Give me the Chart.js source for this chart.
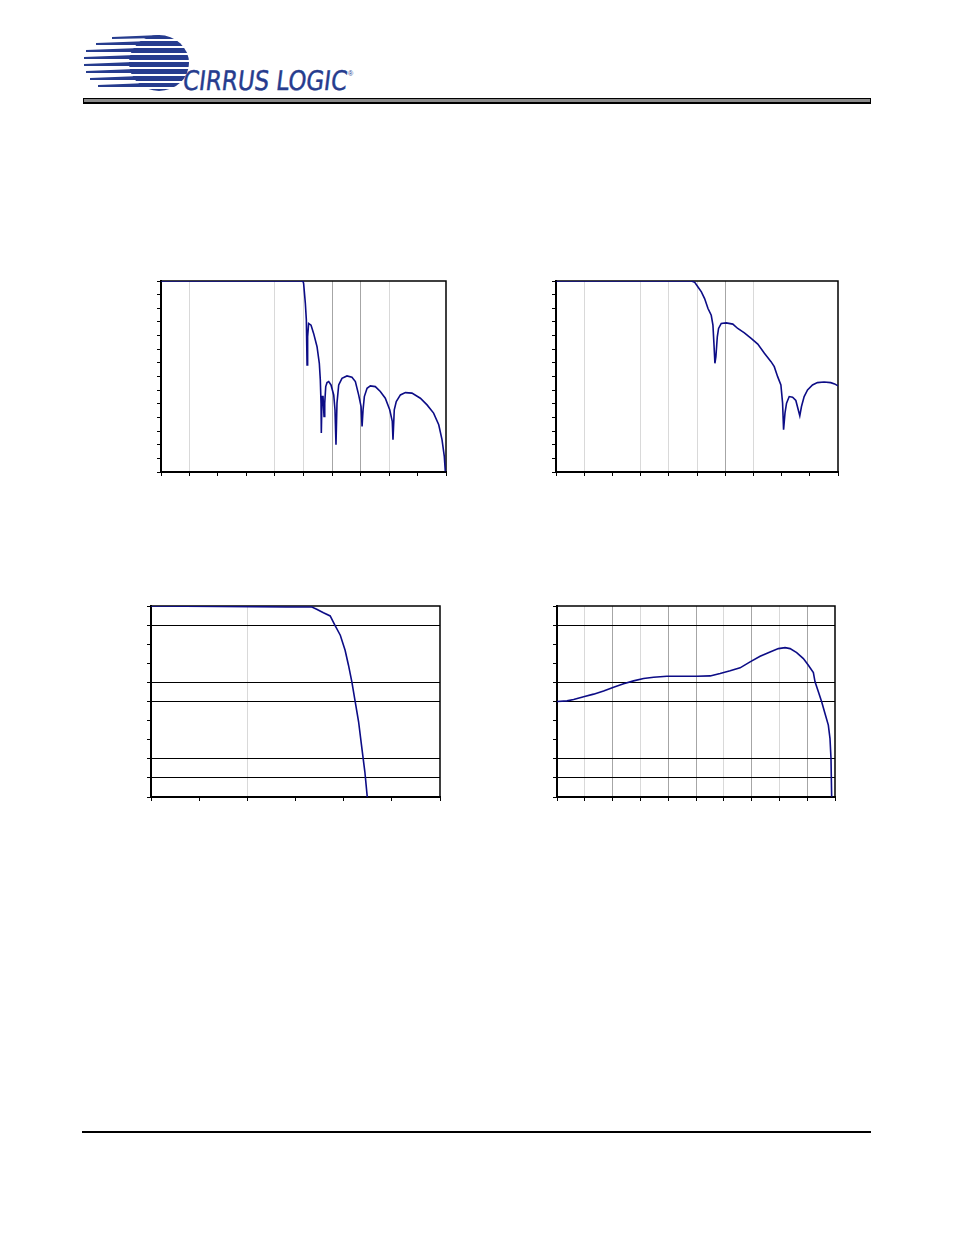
<!DOCTYPE html>
<html>
<head>
<meta charset="utf-8">
<script src="https://cdn.jsdelivr.net/npm/chart.js@4"></script>
<style>
  body { margin: 0; background: #fff; width: 954px; height: 1235px; position: relative; overflow: hidden; }
  .plot { position: absolute; }
  #headerBar { position: absolute; left: 83px; top: 98px; width: 786px; height: 3px; background: #8a8a8a; border: 1px solid #000; border-bottom-width: 2px; }
  #footerLine { position: absolute; left: 82px; top: 1131px; width: 789px; height: 2px; background: #000; }
  #logo { position: absolute; left: 80px; top: 30px; }
</style>
</head>
<body>
<svg id="logo" width="290" height="68" viewBox="80 30 290 68">
  <defs>
    <clipPath id="globe"><ellipse cx="159" cy="63" rx="30" ry="28"/></clipPath>
  </defs>
  <g fill="#263c8e">
    <g clip-path="url(#globe)">
      <rect x="120" y="35" width="80" height="4"/>
      <rect x="120" y="41" width="80" height="5"/>
      <rect x="120" y="48" width="80" height="5"/>
      <rect x="120" y="55" width="80" height="5"/>
      <rect x="120" y="62" width="80" height="5"/>
      <rect x="120" y="69" width="80" height="5"/>
      <rect x="120" y="76" width="80" height="5"/>
      <rect x="120" y="83" width="80" height="4"/>
      <rect x="120" y="89" width="80" height="3"/>
    </g>
    <polygon points="112,37 160,35 160,38 112,39"/>
    <polygon points="96,43 150,41 150,45 96,45"/>
    <polygon points="86,50 140,48 140,52 86,52"/>
    <polygon points="84,57 135,55 135,59 84,59"/>
    <polygon points="84,64 133,62 133,66 84,66"/>
    <polygon points="86,71 135,69 135,73 86,73"/>
    <polygon points="90,78 140,76 140,80 90,80"/>
    <polygon points="98,85 148,83 148,87 98,87"/>
    <text x="183" y="90" font-family="DejaVu Sans Condensed, Liberation Sans Narrow, sans-serif" font-size="27" stroke="#263c8e" stroke-width="0.4" textLength="164" lengthAdjust="spacingAndGlyphs" transform="skewX(-7) translate(10,0)">CIRRUS LOGIC</text>
    <text x="348" y="76" font-family="Liberation Sans, sans-serif" font-size="7">®</text>
  </g>
</svg>
<div id="headerBar"></div>

<canvas id="stopbandChart" class="plot" style="left:151px;top:271px" width="305" height="211"></canvas>
<canvas id="stopbandChart2" class="plot" style="left:546px;top:271px" width="302" height="211"></canvas>
<canvas id="transitionChart" class="plot" style="left:141px;top:596px" width="309" height="211"></canvas>
<canvas id="rippleChart" class="plot" style="left:547px;top:596px" width="298" height="211"></canvas>

<div id="footerLine"></div>

<script>
// chart 1: stopband rejection
var stopFreq = [0.400, 0.4996, 0.5001, 0.5013, 0.5020, 0.5025, 0.5029, 0.5036, 0.5053, 0.5071, 0.5095, 0.5111, 0.5118, 0.5123, 0.5125, 0.5130, 0.5137, 0.5144, 0.5149, 0.5156, 0.5165, 0.5177, 0.5193, 0.5212, 0.5221, 0.5228, 0.5235, 0.5247, 0.5270, 0.5305, 0.5340, 0.5364, 0.5387, 0.5404, 0.5411, 0.5418, 0.5427, 0.5446, 0.5469, 0.5504, 0.5539, 0.5574, 0.5605, 0.5623, 0.5628, 0.5637, 0.5651, 0.5680, 0.5715, 0.5761, 0.5820, 0.5867, 0.5913, 0.5949, 0.5972, 0.5988, 0.5995];
var stopDb = [0, 0, -1.9, -16.5, -28.7, -61.6, -40.9, -31.1, -32.4, -38.4, -48.2, -60.3, -72.5, -89.5, -111.4, -84.7, -84.7, -99.3, -89.5, -77.4, -74.5, -73.7, -76.2, -83.5, -94.4, -120.0, -89.5, -76.2, -71.3, -69.6, -70.6, -73.7, -83.5, -92.0, -106.6, -94.4, -84.7, -78.6, -76.9, -77.4, -81.0, -85.9, -94.4, -102.9, -116.3, -94.4, -88.3, -83.5, -81.8, -82.2, -85.9, -90.8, -96.8, -105.4, -116.3, -128.5, -139.4];

// chart 2: stopband rejection, second mode
var stop2Freq = [0.400, 0.496, 0.4984, 0.5007, 0.5031, 0.5054, 0.5078, 0.5101, 0.5113, 0.5120, 0.5127, 0.5134, 0.5144, 0.5153, 0.5172, 0.5207, 0.5254, 0.5289, 0.5336, 0.5384, 0.5431, 0.5478, 0.5525, 0.5548, 0.5572, 0.5595, 0.5607, 0.5614, 0.5624, 0.5635, 0.5654, 0.5678, 0.5701, 0.5718, 0.5729, 0.5741, 0.5760, 0.5784, 0.5819, 0.5854, 0.5901, 0.5948, 0.5976, 0.6000];
var stop2Db = [0, 0, -1.0, -4.4, -8.0, -12.9, -20.2, -25.1, -32.4, -45.7, -60.3, -55.5, -40.9, -34.8, -31.1, -30.7, -31.6, -34.8, -38.0, -42.1, -46.2, -53.0, -59.1, -62.8, -70.1, -76.2, -89.5, -109.0, -96.8, -89.5, -84.7, -85.2, -87.6, -94.4, -98.8, -92.0, -84.7, -79.8, -76.2, -74.5, -74.0, -74.5, -75.4, -76.9];

// chart 3: transition band
var transFreq = [0.460, 0.4882, 0.4934, 0.4944, 0.4958, 0.4972, 0.4982, 0.4993, 0.5003, 0.5010, 0.5017, 0.5024, 0.5031, 0.5037, 0.5044, 0.5049];
var transDb = [0, -0.05, -0.05, -0.17, -0.35, -0.52, -1.01, -1.53, -2.32, -3.10, -3.97, -5.02, -6.06, -7.28, -8.68, -10.0];

// chart 4: passband ripple
var rippleFreq = [0, 0.0180, 0.0299, 0.0479, 0.0659, 0.0838, 0.1018, 0.1198, 0.1377, 0.1557, 0.1737, 0.1976, 0.2515, 0.2754, 0.2934, 0.3114, 0.3293, 0.3473, 0.3653, 0.3832, 0.3982, 0.4102, 0.4192, 0.4311, 0.4431, 0.4521, 0.4611, 0.4641, 0.4701, 0.4760, 0.4820, 0.4880, 0.4910, 0.4928, 0.4940];
var rippleDb = [0, 0.0007, 0.0021, 0.0049, 0.0077, 0.0111, 0.0150, 0.0185, 0.0216, 0.0240, 0.0254, 0.0265, 0.0265, 0.0268, 0.0293, 0.0321, 0.0352, 0.0415, 0.0474, 0.0519, 0.0554, 0.0564, 0.0554, 0.0512, 0.0449, 0.0380, 0.0303, 0.0206, 0.0101, -0.0003, -0.0125, -0.0247, -0.0387, -0.0596, -0.0997];

var LIGHT = "#d9d9d9";
var DARK = "#a6a6a6";
var NONE = "rgba(0,0,0,0)";

function toPoints(xs, ys) {
  return xs.map(function (x, i) { return { x: x, y: ys[i] }; });
}

// thin frame on top and right of the plot area, under the curve
var framePlugin = {
  id: "frame",
  beforeDatasetsDraw: function (chart) {
    var a = chart.chartArea;
    var c = chart.ctx;
    c.save();
    c.strokeStyle = "#000";
    c.lineWidth = 1.5;
    c.beginPath();
    c.moveTo(a.left, a.top);
    c.lineTo(a.right, a.top);
    c.lineTo(a.right, a.bottom);
    c.stroke();
    c.restore();
  },
};

function makeChart(id, xs, ys, xMin, xMax, xStep, yMin, yMax, yStep, xGrid, yGrid) {
  var ctx = document.getElementById(id).getContext("2d");
  return new Chart(ctx, {
    type: "line",
    data: {
      datasets: [
        {
          data: toPoints(xs, ys),
          borderColor: "#0c0c86",
          borderWidth: 1.6,
          pointRadius: 0,
          tension: 0,
          fill: false,
        },
      ],
    },
    options: {
      responsive: false,
      animation: false,
      layout: { padding: { left: 6, top: 10, right: 10, bottom: 6 } },
      plugins: { legend: { display: false }, tooltip: { enabled: false } },
      scales: {
        x: {
          type: "linear",
          min: xMin,
          max: xMax,
          ticks: { display: false, stepSize: xStep },
          grid: {
            color: function (c) { return xGrid[c.index] || NONE; },
            tickColor: "#000",
            tickLength: 4,
            lineWidth: 1,
          },
          border: { color: "#000", width: 2 },
        },
        y: {
          min: yMin,
          max: yMax,
          ticks: { display: false, stepSize: yStep },
          grid: {
            color: function (c) { return yGrid[c.index] || NONE; },
            tickColor: "#000",
            tickLength: 4,
            lineWidth: 1,
          },
          border: { color: "#000", width: 2 },
        },
      },
    },
    plugins: [framePlugin],
  });
}

document.addEventListener("DOMContentLoaded", function () {
  makeChart("stopbandChart", stopFreq, stopDb, 0.4, 0.6, 0.02, -140, 0, 10,
    [NONE, LIGHT, NONE, NONE, LIGHT, LIGHT, DARK, DARK, LIGHT, NONE, NONE], []);

  makeChart("stopbandChart2", stop2Freq, stop2Db, 0.4, 0.6, 0.02, -140, 0, 10,
    [NONE, LIGHT, NONE, LIGHT, LIGHT, LIGHT, DARK, LIGHT, NONE, NONE, NONE], []);

  // y ticks are indexed from the bottom
  makeChart("transitionChart", transFreq, transDb, 0.46, 0.52, 0.01, -10, 0, 1,
    [NONE, NONE, LIGHT, NONE, NONE, NONE, NONE],
    [NONE, "#000", "#000", NONE, NONE, "#000", "#000", NONE, NONE, "#000", NONE]);

  makeChart("rippleChart", rippleFreq, rippleDb, 0, 0.5, 0.05, -0.1, 0.1, 0.02,
    [NONE, LIGHT, DARK, LIGHT, DARK, DARK, LIGHT, DARK, LIGHT, DARK, NONE],
    [NONE, "#000", "#000", NONE, NONE, "#000", "#000", NONE, NONE, "#000", NONE]);
});
</script>
</body>
</html>
